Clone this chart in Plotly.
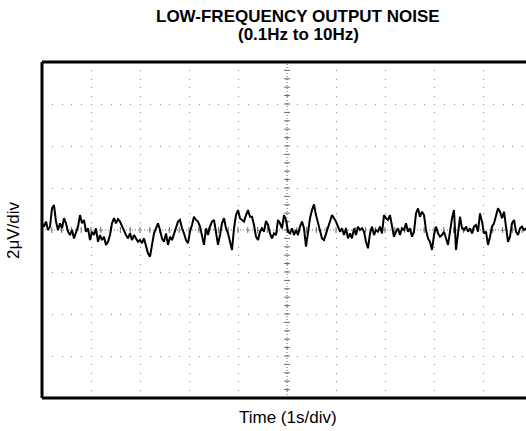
import plotly.graph_objects as go

# scope settings: 1s/div horizontally, 2uV/div vertically, 10 x 8 divisions
sample_period = 2 / 49  # s between samples
x_span = 484 / 49       # visible part of the 10 divisions (right edge is cut off)
y_div = 2               # uV per division

# output noise (uV) from left to right
seg1 = [0.32, 0.16, 0.40, 0.00, 0.16, 1.03, 1.19, 0.40, 0.00, 0.32,
        0.08, 0.56, 0.32, -0.08, -0.24, 0.00, -0.40, -0.16, 0.16, 0.71,
        0.32, 0.48, -0.08, 0.08, -0.48, -0.08, -0.24, 0.08, -0.56, -0.24,
        -0.48, -0.32, -0.71, -0.56, -0.24, 0.32, 0.56, 0.32, 0.52, 0.40]
seg2 = [0.16, 0.00, -0.24, -0.40, -0.16, -0.48, -0.24, -0.40, -0.56, -0.48,
        -0.63, -0.40, -0.79, -1.11, -1.27, -0.71, -0.16, 0.08, 0.32, 0.00,
        -0.40, -0.56, -0.16, -0.71, -0.32, -0.48, -0.16, 0.08, 0.40, 0.48,
        0.08, -0.16, -0.48, -0.63, -0.08, 0.24, 0.63, 0.48, 0.40, 0.16]
seg3 = [-0.32, -0.71, 0.08, -0.24, 0.16, 0.40, 0.48, -0.16, -0.71, -0.24,
        0.32, 0.56, 0.08, -0.16, -0.56, -0.95, 0.08, 0.71, 0.95, 0.56,
        0.48, 0.40, 0.71, 0.95, 0.63, 0.63, 0.24, -0.32, -0.48, -0.08,
        0.08, -0.08, 0.43, 0.24, -0.16, -0.40, -0.16, -0.24, 0.48, 0.32]
seg4 = [0.08, 0.71, 0.48, -0.08, -0.16, 0.08, -0.24, 0.00, -0.24, 0.16,
        0.40, 0.08, -0.79, -0.08, 0.56, 0.95, 1.22, 0.71, 0.32, -0.16,
        -0.40, -0.48, -0.16, 0.08, 0.48, 0.71, 0.56, 0.40, 0.16, -0.08,
        0.08, -0.24, 0.08, -0.40, -0.16, -0.40, 0.08, -0.24, 0.16, 0.00]
seg5 = [0.08, -0.08, -0.56, -0.87, -0.16, 0.16, -0.24, 0.00, -0.08, 0.16,
        -0.16, 0.71, 0.56, 0.48, 0.71, 0.24, -0.32, -0.08, 0.08, -0.24,
        0.08, 0.00, 0.32, -0.08, 0.08, -0.32, -0.08, 0.79, 1.03, 0.63,
        0.87, 0.71, 0.00, -0.40, -0.56, -0.95, -0.24, 0.16, -0.16, -0.32]
seg6 = [-0.24, -0.08, -0.40, -0.71, -0.08, 0.56, 0.95, -0.95, -0.16, 0.63,
        0.08, 0.00, 0.16, -0.08, 0.08, -0.16, 0.16, 0.24, -0.08, 0.79,
        0.40, -0.16, -0.08, -0.71, -0.32, 0.16, 0.32, 0.71, 1.03, 0.87,
        0.56, 0.87, 0.16, -0.56, -0.32, 0.32, 0.48, -0.08, -0.24, 0.08,
        0.16, 0.00, 0.08]
noise_uv = seg1 + seg2 + seg3 + seg4 + seg5 + seg6

fig = go.Figure()
fig.add_trace(go.Scatter(y=noise_uv, x0=0, dx=sample_period, mode='lines',
                         line=dict(color='black', width=2), hoverinfo='skip'))

# centre cross of the graticule, dotted with minor ticks every 1/5 div
grey = '#666666'
shapes = [
    dict(type='line', xref='x', yref='y', x0=0, x1=x_span, y0=0, y1=0,
         line=dict(color=grey, width=1, dash='1px,2px'), layer='below'),
    dict(type='line', xref='x', yref='y', x0=5, x1=5, y0=-4 * y_div, y1=4 * y_div,
         line=dict(color=grey, width=1, dash='1px,2px'), layer='below'),
]
for i in range(1, 50):
    xt = i * 0.2
    if xt < x_span:
        shapes.append(dict(type='line', xref='x', yref='y', x0=xt, x1=xt, y0=-0.14, y1=0.14,
                           line=dict(color=grey, width=1), layer='below'))
for i in range(-19, 20):
    yt = i * y_div / 5
    shapes.append(dict(type='line', xref='x', yref='y', x0=4.94, x1=5.06, y0=yt, y1=yt,
                       line=dict(color=grey, width=1), layer='below'))
# heavy frame on left, top and bottom
for x0, x1, y0, y1 in [(0, 0, 0, 1), (0, 1, 1, 1), (0, 1, 0, 0)]:
    shapes.append(dict(type='line', xref='paper', yref='paper', x0=x0, x1=x1, y0=y0, y1=y1,
                       line=dict(color='black', width=3)))

font = dict(family='Arial, Liberation Sans, sans-serif', color='black')


def paper_y(px):
    # page pixel row -> paper coordinate (plot spans rows 62..398)
    return (398 - px) / 336


def paper_x(px):
    return (px - 42) / 484


title_lines = ['LOW-FREQUENCY OUTPUT NOISE', '(0.1Hz to 10Hz)']
annotations = []
for line, row in zip(title_lines, [16, 34]):
    annotations.append(dict(text='<b>%s</b>' % line, xref='paper', yref='paper',
                            x=paper_x(298), y=paper_y(row), showarrow=False,
                            xanchor='center', yanchor='middle', font=dict(size=17, **font)))
annotations += [
    dict(text='Time (1s/div)', xref='paper', yref='paper', x=paper_x(288),
         y=paper_y(417), showarrow=False, xanchor='center', yanchor='middle',
         font=dict(size=17, **font)),
    dict(text='2μV/div', xref='paper', yref='paper', x=paper_x(13), y=0.5,
         textangle=-90, showarrow=False, xanchor='center', yanchor='middle',
         font=dict(size=17, **font)),
]

fig.update_layout(
    width=526, height=431,
    margin=dict(l=42, r=0, t=62, b=33),
    paper_bgcolor='white', plot_bgcolor='white',
    showlegend=False,
    font=font,
    shapes=shapes,
    annotations=annotations,
    xaxis=dict(range=[0, x_span], dtick=1, tick0=0, showticklabels=False, ticks='',
               showgrid=True, gridcolor='#888888', gridwidth=1, griddash='1px,7.4px',
               zeroline=False, showline=False, fixedrange=True),
    yaxis=dict(range=[-4 * y_div, 4 * y_div], dtick=y_div, tick0=0, showticklabels=False,
               ticks='', showgrid=True, gridcolor='#888888', gridwidth=1,
               griddash='1px,8.8px', zeroline=False, showline=False, fixedrange=True),
)

# drop the default page margin so the figure sits at the window's top-left corner
fig.write_html('out.html', config={'displayModeBar': False},
               post_script="document.body.style.margin='0';")
